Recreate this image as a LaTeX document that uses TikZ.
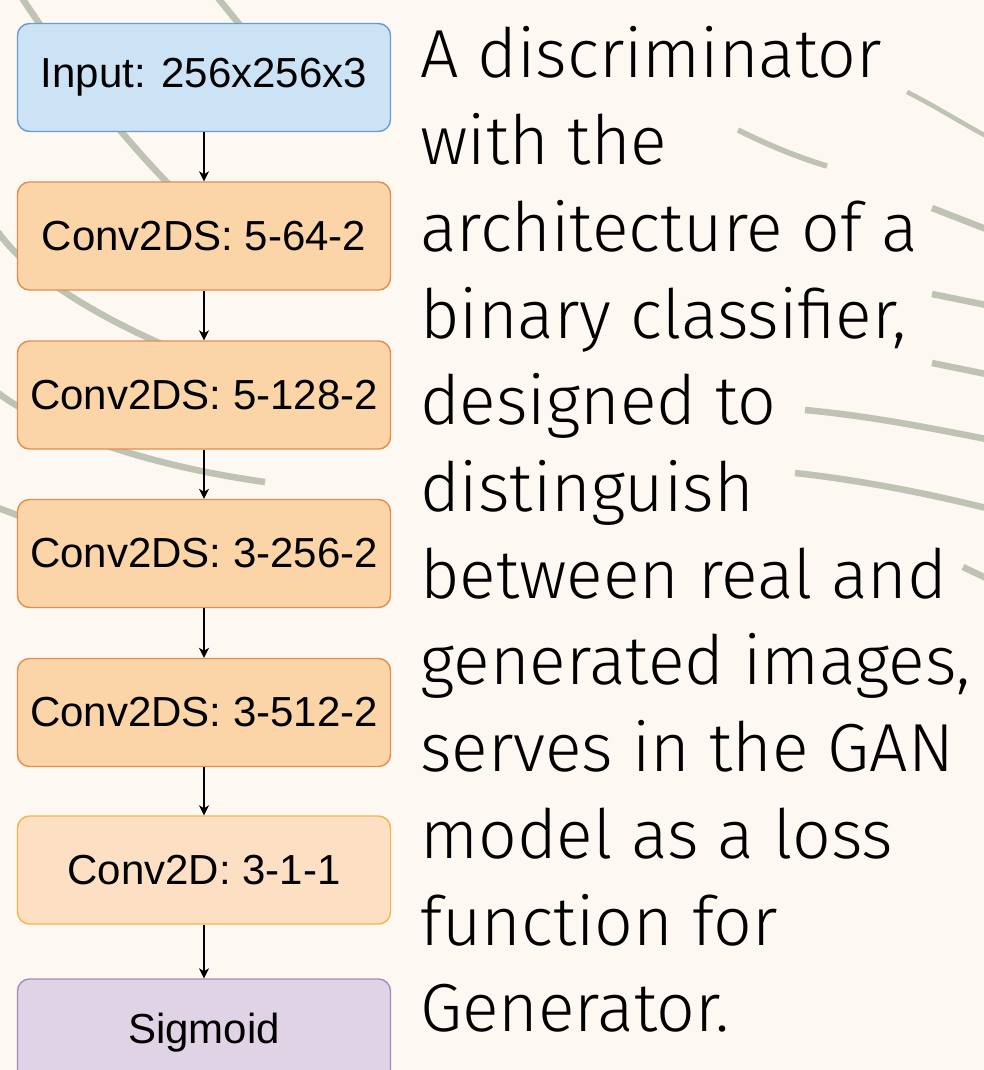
\documentclass[tikz,border=0pt]{standalone}
\usepackage{fontspec}
\usetikzlibrary{arrows.meta}
\newfontfamily\boxfont{Liberation Sans}
\newfontfamily\bodyfont{Fira Sans}[UprightFont=* Light]
\definecolor{bgc}{HTML}{FDF8F1}
\definecolor{swoosh}{HTML}{BEC3B4}
\definecolor{inFill}{HTML}{CCE2F5}
\definecolor{inDraw}{HTML}{6C9BD2}
\definecolor{cvFill}{HTML}{FBD5A8}
\definecolor{cvDraw}{HTML}{E38D4E}
\definecolor{c2Fill}{HTML}{FDE0C4}
\definecolor{c2Draw}{HTML}{F6B44C}
\definecolor{sgFill}{HTML}{E1D3E6}
\definecolor{sgDraw}{HTML}{A58BBA}
\tikzset{
  layer/.style={rectangle, rounded corners=12pt, minimum width=373pt, minimum height=108pt,
    line width=1.4pt, inner sep=0pt, font=\boxfont\fontsize{42}{50}\selectfont, text=black},
  inbox/.style={layer, fill=inFill, draw=inDraw},
  convbox/.style={layer, fill=cvFill, draw=cvDraw},
  lastconv/.style={layer, fill=c2Fill, draw=c2Draw},
  sigbox/.style={layer, fill=sgFill, draw=sgDraw},
  flow/.style={line width=1.3pt, -{Stealth[length=10pt,width=10pt,inset=3pt]}},
  swirl/.style={draw=swoosh, line width=6.5pt},
  body/.style={anchor=base west, inner sep=0pt, font=\bodyfont\fontsize{68}{80}\selectfont, text=black}
}
\begin{document}
\begin{tikzpicture}[x=1pt,y=-1pt]
\useasboundingbox (0,0) rectangle (984,1070);
\clip (0,0) rectangle (984,1070);
\fill[bgc] (0,0) rectangle (984,1070);
% background swooshes (left, partly hidden behind boxes)
\draw[swirl] (22,-2) .. controls (60,55) and (120,140) .. (200,215);
\draw[swirl] (218,-2) -- (252,40);
\draw[swirl] (-2,232) .. controls (25,270) and (85,312) .. (180,352);
\draw[swirl] (-2,393) .. controls (50,432) and (150,466) .. (265,482);
\draw[swirl] (-2,508) .. controls (15,514) and (30,520) .. (45,528);
% background swooshes (right)
\draw[swirl, line width=4.5pt] (907,92) .. controls (935,106) and (960,122) .. (986,136);
\draw[swirl, line width=5.5pt] (738,130) .. controls (770,146) and (800,158) .. (827,166);
\draw[swirl] (932,208) -- (986,229);
\draw[swirl] (932,294) -- (986,305);
\draw[swirl] (932,363) -- (986,374);
\draw[swirl] (805,410) .. controls (870,416) and (930,428) .. (986,439);
\draw[swirl] (795,473) .. controls (860,480) and (930,494) .. (986,508);
\draw[swirl] (963,567) -- (986,578);
% layer boxes
\node[inbox]    (n1) at (204,77.5)  {Input: 256x256x3};
\node[convbox]  (n2) at (204,236)   {Conv2DS: 5-64-2};
\node[convbox]  (n3) at (204,395)   {Conv2DS: 5-128-2};
\node[convbox]  (n4) at (204,553.5) {Conv2DS: 3-256-2};
\node[convbox]  (n5) at (204,712.5) {Conv2DS: 3-512-2};
\node[lastconv] (n6) at (204,870)   {Conv2D: 3-1-1};
\node[sigbox]   (n7) at (204,1033)  {Sigmoid};
\foreach \a/\b in {n1/n2,n2/n3,n3/n4,n4/n5,n5/n6,n6/n7}
  \draw[flow] (\a) -- (\b);
% description
\node[body] (t1)  at (420,78)     {A discriminator};
\node[body] (t2)  at (420,164.7)  {with the};
\node[body] (t3)  at (420,251.4)  {architecture of a};
\node[body] (t4)  at (420,338.1)  {binary classifier,};
\node[body] (t5)  at (420,424.8)  {designed to};
\node[body] (t6)  at (420,511.5)  {distinguish};
\node[body] (t7)  at (420,598.2)  {between real and};
\node[body] (t8)  at (420,684.9)  {generated images,};
\node[body] (t9)  at (420,771.6)  {serves in the GAN};
\node[body] (t10) at (420,858.3)  {model as a loss};
\node[body] (t11) at (420,945)    {function for};
\node[body] (t12) at (420,1031.7) {Generator.};
\end{tikzpicture}
\end{document}
